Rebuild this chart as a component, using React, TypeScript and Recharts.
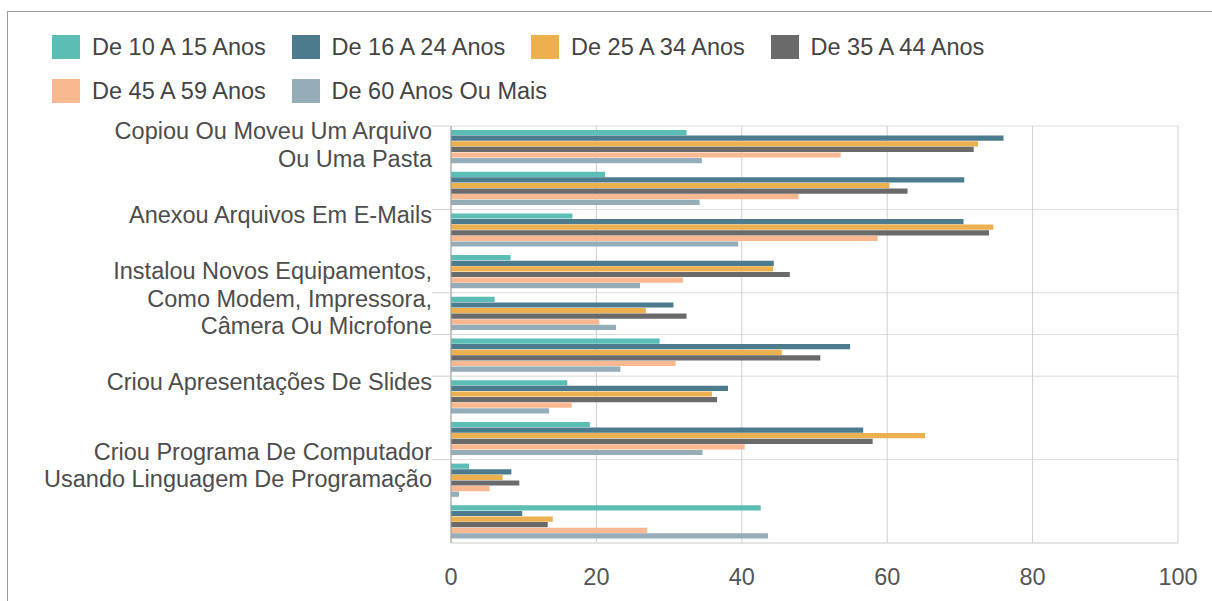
import { Bar, BarChart, CartesianGrid, XAxis, YAxis } from 'recharts';

// only some of the ten rows carry a visible label in the source picture
const categories = [
  'Copiou Ou Moveu Um Arquivo\nOu Uma Pasta',
  '',
  'Anexou Arquivos Em E-Mails',
  '',
  'Instalou Novos Equipamentos,\nComo Modem, Impressora,\nCâmera Ou Microfone',
  '',
  'Criou Apresentações De Slides',
  '',
  'Criou Programa De Computador\nUsando Linguagem De Programação',
  '',
];

const seriesNames = [
  'De 10 A 15 Anos',
  'De 16 A 24 Anos',
  'De 25 A 34 Anos',
  'De 35 A 44 Anos',
  'De 45 A 59 Anos',
  'De 60 Anos Ou Mais',
];
const seriesColors = ['#5bbdb4', '#4b7b8c', '#ecb04f', '#6a6a6a', '#f9b88f', '#94adb8'];

const age10to15 = [32.4, 21.2, 16.7, 8.2, 6.0, 28.7, 16.0, 19.1, 2.5, 42.6];
const age16to24 = [76.0, 70.6, 70.5, 44.4, 30.6, 54.9, 38.1, 56.7, 8.3, 9.8];
const age25to34 = [72.5, 60.3, 74.6, 44.3, 26.8, 45.5, 35.9, 65.2, 7.1, 14.0];
const age35to44 = [71.9, 62.8, 74.0, 46.6, 32.4, 50.8, 36.6, 58.0, 9.4, 13.3];
const age45to59 = [53.6, 47.8, 58.7, 31.9, 20.4, 30.9, 16.6, 40.4, 5.3, 27.0];
const age60plus = [34.5, 34.2, 39.5, 26.0, 22.7, 23.3, 13.5, 34.6, 1.1, 43.6];

const seriesValues = [age10to15, age16to24, age25to34, age35to44, age45to59, age60plus];
const seriesKeys = ['s0', 's1', 's2', 's3', 's4', 's5'];

const xTicks = [0, 20, 40, 60, 80, 100];
// row boundaries where the source draws a horizontal grid line
const gridBoundaries = [0, 2, 4, 5, 6, 8, 10];

const data = categories.map((label, i) => {
  const row: Record<string, string | number> = { key: `c${i}`, label };
  seriesKeys.forEach((k, s) => {
    row[k] = seriesValues[s][i];
  });
  return row;
});

const FONT = '"Liberation Sans", Arial, sans-serif';
const PLOT_TOP = 126;
const PLOT_H = 417;
const LINE_H = 27.5;

function CategoryTick(props: any) {
  const { x, y, index } = props;
  const text = categories[index] || '';
  const lines = text ? text.split('\n') : [];
  const band = PLOT_H / categories.length;
  let first = y - 15 - ((lines.length - 1) * LINE_H) / 2;
  if (first < PLOT_TOP + 5) first = PLOT_TOP + 5;
  const hasTick = gridBoundaries.includes(index);
  return (
    <g>
      {hasTick && (
        <line x1={x} x2={x + 19} y1={y - band / 2} y2={y - band / 2} stroke="#cfcfcf" />
      )}
      {lines.map((line, i) => (
        <text
          key={i}
          x={x}
          y={first + i * LINE_H}
          dy="0.35em"
          textAnchor="end"
          fill="#4d4d4d"
          fontSize={23.5}
          fontFamily={FONT}
        >
          {line}
        </text>
      ))}
    </g>
  );
}

export default function App() {
  return (
    <div style={{ position: 'absolute', left: 0, top: 0, width: 1212, height: 601, background: '#fff', fontFamily: FONT }}>
      <div
        style={{
          position: 'absolute',
          left: 7,
          top: 11,
          right: 0,
          bottom: 0,
          borderTop: '1.5px solid #9a9a9a',
          borderLeft: '1.5px solid #9a9a9a',
        }}
      />
      <div style={{ position: 'absolute', left: 52, top: 25, width: 960, display: 'flex', flexWrap: 'wrap' }}>
        {seriesNames.map((name, i) => (
          <div key={name} style={{ width: 239.5, height: 44, display: 'flex', alignItems: 'center' }}>
            <span style={{ width: 28, height: 24, background: seriesColors[i], marginRight: 12, flexShrink: 0 }} />
            <span style={{ fontSize: 23.5, color: '#444', whiteSpace: 'nowrap' }}>{name}</span>
          </div>
        ))}
      </div>
      <div style={{ position: 'absolute', left: 0, top: 0 }}>
        <BarChart
          width={1212}
          height={601}
          data={data}
          layout="vertical"
          margin={{ top: PLOT_TOP, right: 34, bottom: 0, left: 0 }}
          barSize={5.2}
          barGap={0.4}
        >
          <CartesianGrid
            vertical={false}
            stroke="#dcdcdc"
            horizontalCoordinatesGenerator={({ offset }: any) =>
              gridBoundaries.map((b) => offset.top + (offset.height * b) / categories.length)
            }
          />
          <CartesianGrid horizontal={false} stroke="#cfcfcf" />
          <XAxis
            type="number"
            domain={[0, 100]}
            ticks={xTicks}
            tickLine={false}
            axisLine={{ stroke: '#dcdcdc' }}
            tickMargin={19}
            height={58}
            tick={{ fill: '#555', fontSize: 23.5, fontFamily: FONT }}
          />
          <XAxis
            xAxisId="top"
            orientation="top"
            type="number"
            domain={[0, 100]}
            height={0}
            tick={false}
            tickLine={false}
            axisLine={{ stroke: '#b4b4b4', strokeWidth: 2 }}
          />
          <YAxis
            type="category"
            dataKey="key"
            width={451}
            interval={0}
            tickLine={false}
            tickSize={19}
            tickMargin={0}
            axisLine={{ stroke: '#a0a0a0' }}
            tick={<CategoryTick />}
          />
          {seriesKeys.map((k, i) => (
            <Bar key={k} dataKey={k} name={seriesNames[i]} fill={seriesColors[i]} isAnimationActive={false} />
          ))}
        </BarChart>
      </div>
    </div>
  );
}
